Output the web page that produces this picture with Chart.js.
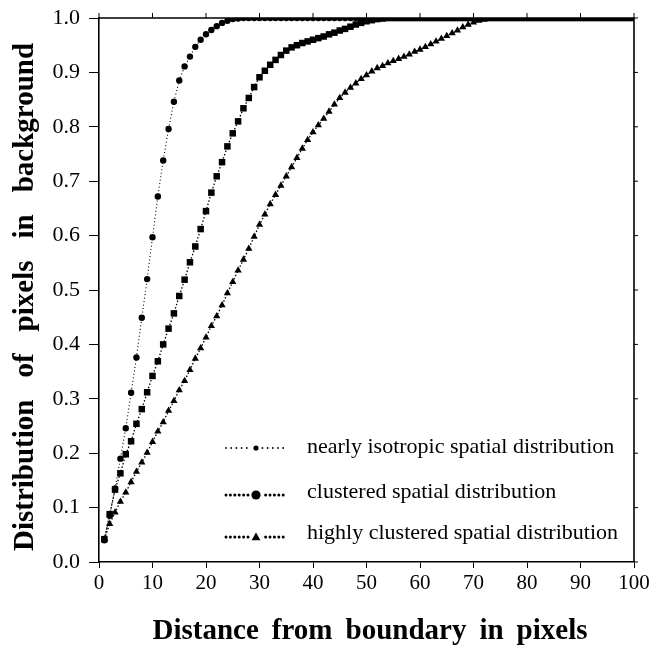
<!DOCTYPE html>
<html>
<head>
<meta charset="utf-8">
<script src="https://cdn.jsdelivr.net/npm/chart.js@4.4.1/dist/chart.umd.min.js"></script>
<style>
  html, body { margin: 0; padding: 0; background: #ffffff; }
  #wrap { width: 653px; height: 645px; }
</style>
</head>
<body>
<div id="wrap"><canvas id="chart" width="653" height="645"></canvas></div>
<script>
// Distance from the boundary (pixels)
const distance = [
  1, 2, 3, 4, 5, 6, 7, 8, 9, 10, 11, 12, 13, 14, 15, 16, 17, 18, 19, 20,
  21, 22, 23, 24, 25, 26, 27, 28, 29, 30, 31, 32, 33, 34, 35, 36, 37, 38, 39, 40,
  41, 42, 43, 44, 45, 46, 47, 48, 49, 50, 51, 52, 53, 54, 55, 56, 57, 58, 59, 60,
  61, 62, 63, 64, 65, 66, 67, 68, 69, 70, 71, 72, 73, 74, 75, 76, 77, 78, 79, 80,
  81, 82, 83, 84, 85, 86, 87, 88, 89, 90, 91, 92, 93, 94, 95, 96, 97, 98, 99, 100
];

// Cumulative share of background pixels within each distance
const nearlyIsotropic = [
  0.040, 0.085, 0.135, 0.190, 0.246, 0.311, 0.376, 0.449, 0.520, 0.597,
  0.672, 0.738, 0.796, 0.846, 0.885, 0.911, 0.929, 0.947, 0.960, 0.970,
  0.978, 0.985, 0.991, 0.995, 0.998, 0.999, 1.000, 1.000, 1.000, 1.000,
  1.000, 1.000, 1.000, 1.000, 1.000, 1.000, 1.000, 1.000, 1.000, 1.000,
  1.000, 1.000, 1.000, 1.000, 1.000, 1.000, 1.000, 1.000, 1.000, 1.000,
  1.000, 1.000, 1.000, 1.000, 1.000, 1.000, 1.000, 1.000, 1.000, 1.000,
  1.000, 1.000, 1.000, 1.000, 1.000, 1.000, 1.000, 1.000, 1.000, 1.000,
  1.000, 1.000, 1.000, 1.000, 1.000, 1.000, 1.000, 1.000, 1.000, 1.000,
  1.000, 1.000, 1.000, 1.000, 1.000, 1.000, 1.000, 1.000, 1.000, 1.000,
  1.000, 1.000, 1.000, 1.000, 1.000, 1.000, 1.000, 1.000, 1.000, 1.000
];

const clustered = [
  0.042, 0.088, 0.133, 0.163, 0.198, 0.222, 0.254, 0.281, 0.312, 0.342,
  0.369, 0.400, 0.429, 0.457, 0.489, 0.519, 0.551, 0.580, 0.612, 0.645,
  0.679, 0.709, 0.735, 0.764, 0.788, 0.810, 0.834, 0.853, 0.873, 0.891,
  0.903, 0.914, 0.923, 0.932, 0.940, 0.946, 0.950, 0.954, 0.957, 0.960,
  0.963, 0.966, 0.970, 0.973, 0.977, 0.980, 0.984, 0.988, 0.991, 0.994,
  0.996, 0.998, 0.999, 1.000, 1.000, 1.000, 1.000, 1.000, 1.000, 1.000,
  1.000, 1.000, 1.000, 1.000, 1.000, 1.000, 1.000, 1.000, 1.000, 1.000,
  1.000, 1.000, 1.000, 1.000, 1.000, 1.000, 1.000, 1.000, 1.000, 1.000,
  1.000, 1.000, 1.000, 1.000, 1.000, 1.000, 1.000, 1.000, 1.000, 1.000,
  1.000, 1.000, 1.000, 1.000, 1.000, 1.000, 1.000, 1.000, 1.000, 1.000
];

const highlyClustered = [
  0.042, 0.070, 0.091, 0.111, 0.128, 0.147, 0.166, 0.183, 0.201, 0.221,
  0.240, 0.257, 0.278, 0.296, 0.316, 0.333, 0.353, 0.374, 0.393, 0.413,
  0.434, 0.452, 0.472, 0.494, 0.515, 0.536, 0.556, 0.576, 0.598, 0.620,
  0.639, 0.658, 0.675, 0.692, 0.709, 0.726, 0.743, 0.760, 0.776, 0.790,
  0.803, 0.815, 0.828, 0.841, 0.853, 0.863, 0.872, 0.880, 0.888, 0.895,
  0.902, 0.908, 0.912, 0.917, 0.921, 0.925, 0.929, 0.933, 0.938, 0.942,
  0.947, 0.952, 0.957, 0.962, 0.967, 0.972, 0.977, 0.983, 0.988, 0.992,
  0.995, 0.997, 0.999, 1.000, 1.000, 1.000, 1.000, 1.000, 1.000, 1.000,
  1.000, 1.000, 1.000, 1.000, 1.000, 1.000, 1.000, 1.000, 1.000, 1.000,
  1.000, 1.000, 1.000, 1.000, 1.000, 1.000, 1.000, 1.000, 1.000, 1.000
];

const seriesNames = [
  'nearly isotropic spatial distribution',
  'clustered spatial distribution',
  'highly clustered spatial distribution'
];

const xTitle = 'Distance from boundary in pixels';
const yTitle = 'Distribution of pixels in background';

const SERIF = '"Liberation Serif", "Times New Roman", serif';
const INK = '#000000';

function points(ys) {
  return distance.map((d, i) => ({ x: d, y: ys[i] }));
}

// Frame on the top and right edges with outward tick marks
const framePlugin = {
  id: 'frame',
  afterDatasetsDraw(chart) {
    const { ctx, chartArea: a, scales } = chart;
    ctx.save();
    ctx.strokeStyle = INK;
    ctx.lineWidth = 1.6;
    ctx.beginPath();
    ctx.moveTo(a.left, a.top);
    ctx.lineTo(a.right, a.top);
    ctx.lineTo(a.right, a.bottom);
    ctx.stroke();
    ctx.lineWidth = 1;
    ctx.beginPath();
    for (let v = 0; v <= 100; v += 10) {
      const x = scales.x.getPixelForValue(v);
      ctx.moveTo(x, a.top);
      ctx.lineTo(x, a.top - 5);
    }
    for (let v = 0; v <= 1.0001; v += 0.1) {
      const y = scales.y.getPixelForValue(v);
      ctx.moveTo(a.right, y);
      ctx.lineTo(a.right + 4, y);
    }
    ctx.stroke();
    ctx.restore();
  }
};

// Axis titles in bold serif with generous word gaps
function drawSpaced(ctx, text, cx, cy, gap) {
  const words = text.split(' ');
  const widths = words.map(w => ctx.measureText(w).width);
  const total = widths.reduce((s, w) => s + w, 0) + gap * (words.length - 1);
  let x = cx - total / 2;
  ctx.textAlign = 'left';
  words.forEach((w, i) => {
    ctx.fillText(w, x, cy);
    x += widths[i] + gap;
  });
}

const titlePlugin = {
  id: 'titles',
  afterDraw(chart) {
    const { ctx } = chart;
    ctx.save();
    ctx.fillStyle = INK;
    ctx.textBaseline = 'middle';
    ctx.font = 'bold 29px ' + SERIF;
    drawSpaced(ctx, xTitle, 370, 632, 13);
    ctx.translate(26, 297);
    ctx.rotate(-Math.PI / 2);
    ctx.font = 'bold 29px ' + SERIF;
    drawSpaced(ctx, yTitle, 0, 0, 22);
    ctx.restore();
  }
};

// Legend inside the plot: dotted sample line, marker, label
const legendPlugin = {
  id: 'insideLegend',
  afterDraw(chart) {
    const { ctx } = chart;
    const rows = [
      { y: 448, style: 'circle', r: 2.6, dot: 0.9, step: 5.2, textY: 447 },
      { y: 495, style: 'circle', r: 4.6, dot: 1.5, step: 4.4, textY: 492 },
      { y: 537, style: 'triangle', r: 4.4, dot: 1.5, step: 4.4, textY: 533 }
    ];
    ctx.save();
    ctx.fillStyle = INK;
    rows.forEach((row, i) => {
      for (let x = 226; x <= 286; x += row.step) {
        if (Math.abs(x - 256) < row.r + 1.5) continue;
        ctx.beginPath();
        ctx.arc(x, row.y, row.dot, 0, Math.PI * 2);
        ctx.fill();
      }
      ctx.beginPath();
      if (row.style === 'circle') {
        ctx.arc(256, row.y, row.r, 0, Math.PI * 2);
      } else {
        ctx.moveTo(256, row.y - row.r);
        ctx.lineTo(256 + row.r, row.y + row.r * 0.75);
        ctx.lineTo(256 - row.r, row.y + row.r * 0.75);
        ctx.closePath();
      }
      ctx.fill();
      ctx.font = '22px ' + SERIF;
      ctx.textBaseline = 'middle';
      ctx.textAlign = 'left';
      ctx.fillText(seriesNames[i], 307, row.textY);
    });
    ctx.restore();
  }
};

const common = {
  showLine: true,
  borderColor: INK,
  backgroundColor: INK,
  pointBackgroundColor: INK,
  pointBorderColor: INK,
  pointBorderWidth: 0,
  borderWidth: 1.3,
  tension: 0
};

new Chart(document.getElementById('chart'), {
  type: 'scatter',
  data: {
    datasets: [
      Object.assign({}, common, {
        label: seriesNames[0],
        data: points(nearlyIsotropic),
        pointStyle: 'circle',
        pointRadius: 3.2,
        borderWidth: 1.1,
        borderDash: [1, 2.5]
      }),
      Object.assign({}, common, {
        label: seriesNames[1],
        data: points(clustered),
        pointStyle: 'rect',
        pointRadius: 4.6,
        borderDash: [1.5, 2]
      }),
      Object.assign({}, common, {
        label: seriesNames[2],
        data: points(highlyClustered),
        pointStyle: 'triangle',
        pointRadius: 4.2,
        borderDash: [1.5, 2]
      })
    ]
  },
  options: {
    responsive: false,
    animation: false,
    devicePixelRatio: 1,
    layout: { padding: { top: 18, right: 19, left: 0, bottom: 0 } },
    plugins: {
      legend: { display: false },
      tooltip: { enabled: false },
      title: { display: false }
    },
    scales: {
      x: {
        type: 'linear',
        min: 0,
        max: 100,
        afterFit(scale) {
          scale.height = 83;
          scale.paddingLeft = 0;
          scale.paddingRight = 0;
        },
        border: { color: INK, width: 1.6 },
        grid: { drawOnChartArea: false, drawTicks: true, tickLength: 6, color: INK, lineWidth: 1 },
        ticks: {
          stepSize: 10,
          color: INK,
          padding: 3,
          font: { family: SERIF, size: 21 }
        }
      },
      y: {
        type: 'linear',
        min: 0,
        max: 1,
        afterFit(scale) {
          scale.width = 99;
          scale.paddingTop = 0;
          scale.paddingBottom = 0;
        },
        border: { color: INK, width: 1.6 },
        grid: { drawOnChartArea: false, drawTicks: true, tickLength: 10, color: INK, lineWidth: 1 },
        ticks: {
          stepSize: 0.1,
          color: INK,
          padding: 9,
          font: { family: SERIF, size: 22 },
          callback: v => v.toFixed(1)
        }
      }
    }
  },
  plugins: [framePlugin, titlePlugin, legendPlugin]
});
</script>
</body>
</html>
